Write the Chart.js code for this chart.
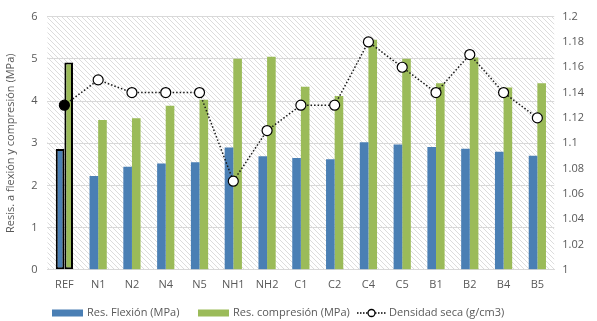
<!DOCTYPE html>
<html>
<head>
<meta charset="utf-8">
<script src="https://cdn.jsdelivr.net/npm/chart.js@4"></script>
<style>
  html, body { margin: 0; padding: 0; background: #fff; }
  #wrap { width: 597px; height: 321px; }
</style>
</head>
<body>
<div id="wrap"><canvas id="grafico"></canvas></div>
<script>
const categorias = ['REF', 'N1', 'N2', 'N4', 'N5', 'NH1', 'NH2', 'C1', 'C2', 'C4', 'C5', 'B1', 'B2', 'B4', 'B5']
const flexion = [2.86, 2.22, 2.44, 2.52, 2.55, 2.9, 2.69, 2.65, 2.62, 3.02, 2.97, 2.91, 2.87, 2.8, 2.7]
const compresion = [4.91, 3.55, 3.59, 3.89, 4.03, 5.0, 5.05, 4.34, 4.12, 5.45, 5.0, 4.42, 5.03, 4.32, 4.42]
const densidad = [1.13, 1.15, 1.14, 1.14, 1.14, 1.07, 1.11, 1.13, 1.13, 1.18, 1.16, 1.14, 1.17, 1.14, 1.12]

const azul = '#4a7fb4'
const verde = '#9bbb59'
const gris = '#595959'
const fuente = 'Open Sans'

// borde negro solo para REF
const bordes = categorias.map(c => c === 'REF' ? '#000' : 'rgba(0,0,0,0)')
const anchos = categorias.map(c => c === 'REF' ? 2 : 0)
const rellenoPunto = categorias.map(c => c === 'REF' ? '#000' : '#fff')

function rayado() {
  const c = document.createElement('canvas')
  c.width = 5
  c.height = 5
  const ctx = c.getContext('2d')
  ctx.fillStyle = '#fff'
  ctx.fillRect(0, 0, 5, 5)
  ctx.strokeStyle = '#dcdcdc'
  ctx.lineWidth = 1
  ctx.beginPath()
  ctx.moveTo(-1, -1); ctx.lineTo(6, 6)
  ctx.moveTo(-1, 4); ctx.lineTo(1, 6)
  ctx.moveTo(4, -1); ctx.lineTo(6, 1)
  ctx.stroke()
  return c
}

const fondoPlugin = {
  id: 'fondo',
  beforeDraw(chart) {
    const { ctx, chartArea: a } = chart
    ctx.save()
    ctx.fillStyle = ctx.createPattern(rayado(), 'repeat')
    ctx.fillRect(a.left, a.top, a.right - a.left, a.bottom - a.top)
    ctx.restore()
  },
}

const leyendaPlugin = {
  id: 'leyenda',
  afterDraw(chart) {
    const ctx = chart.ctx
    const y = chart.height - 8
    ctx.save()
    ctx.font = '11px "' + fuente + '"'
    ctx.textBaseline = 'middle'
    ctx.fillStyle = gris
    const ds = chart.data.datasets
    let x = 52
    ctx.fillStyle = azul
    ctx.fillRect(x, y - 3.5, 31, 7)
    ctx.fillStyle = gris
    ctx.fillText(ds[0].label, x + 35, y)
    x = 198
    ctx.fillStyle = verde
    ctx.fillRect(x, y - 3.5, 31, 7)
    ctx.fillStyle = gris
    ctx.fillText(ds[1].label, x + 35, y)
    x = 357
    ctx.strokeStyle = '#000'
    ctx.lineWidth = 1.3
    ctx.setLineDash([1.5, 1.5])
    ctx.beginPath()
    ctx.moveTo(x, y); ctx.lineTo(x + 29, y)
    ctx.stroke()
    ctx.setLineDash([])
    ctx.beginPath()
    ctx.arc(x + 14.5, y, 3.5, 0, Math.PI * 2)
    ctx.fillStyle = '#fff'
    ctx.fill()
    ctx.stroke()
    ctx.fillStyle = gris
    ctx.fillText(ds[2].label, x + 32, y)
    ctx.restore()
  },
}

const datos = {
  labels: categorias,
  datasets: [
    {
      type: 'bar',
      label: 'Res. Flexión (MPa)',
      data: flexion,
      backgroundColor: azul,
      borderColor: bordes,
      borderWidth: anchos,
      borderSkipped: false,
      yAxisID: 'y',
      order: 1,
      barPercentage: 1,
      categoryPercentage: 0.51,
    },
    {
      type: 'bar',
      label: 'Res. compresión (MPa)',
      data: compresion,
      backgroundColor: verde,
      borderColor: bordes,
      borderWidth: anchos,
      borderSkipped: false,
      yAxisID: 'y',
      order: 1,
      barPercentage: 1,
      categoryPercentage: 0.51,
    },
    {
      type: 'line',
      label: 'Densidad seca (g/cm3)',
      data: densidad,
      borderColor: '#1a1a1a',
      borderWidth: 1.5,
      borderDash: [1.5, 2],
      pointRadius: 5,
      pointBorderWidth: 1.2,
      pointBackgroundColor: rellenoPunto,
      pointBorderColor: '#000',
      fill: false,
      tension: 0,
      yAxisID: 'y1',
      order: 0,
    },
  ],
}

const config = {
  data: datos,
  options: {
    responsive: true,
    maintainAspectRatio: false,
    animation: false,
    layout: { padding: { left: 4, right: 5, top: 6, bottom: 22 } },
    plugins: {
      legend: { display: false },
      tooltip: { enabled: false },
    },
    scales: {
      x: {
        grid: { display: false, drawTicks: false },
        border: { color: '#d9d9d9' },
        ticks: { color: gris, font: { family: fuente, size: 11 }, padding: 8, maxRotation: 0, autoSkip: false },
      },
      y: {
        position: 'left',
        min: 0,
        max: 6,
        ticks: { stepSize: 1, color: gris, font: { family: fuente, size: 11 }, padding: 10 },
        grid: { color: '#d9d9d9', drawTicks: false },
        border: { display: false },
        title: {
          display: true,
          text: 'Resis. a flexión y compresión (MPa)',
          color: gris,
          font: { family: fuente, size: 11 },
          padding: { top: 0, bottom: 4 },
        },
      },
      y1: {
        position: 'right',
        min: 1,
        max: 1.2,
        ticks: {
          stepSize: 0.02,
          color: gris,
          font: { family: fuente, size: 11 },
          padding: 8,
          callback: v => String(+v.toFixed(2)),
        },
        grid: { display: false, drawTicks: false },
        border: { display: false },
      },
    },
  },
  plugins: [fondoPlugin, leyendaPlugin],
}

const grafico = new Chart(document.getElementById('grafico'), config)
</script>
</body>
</html>
